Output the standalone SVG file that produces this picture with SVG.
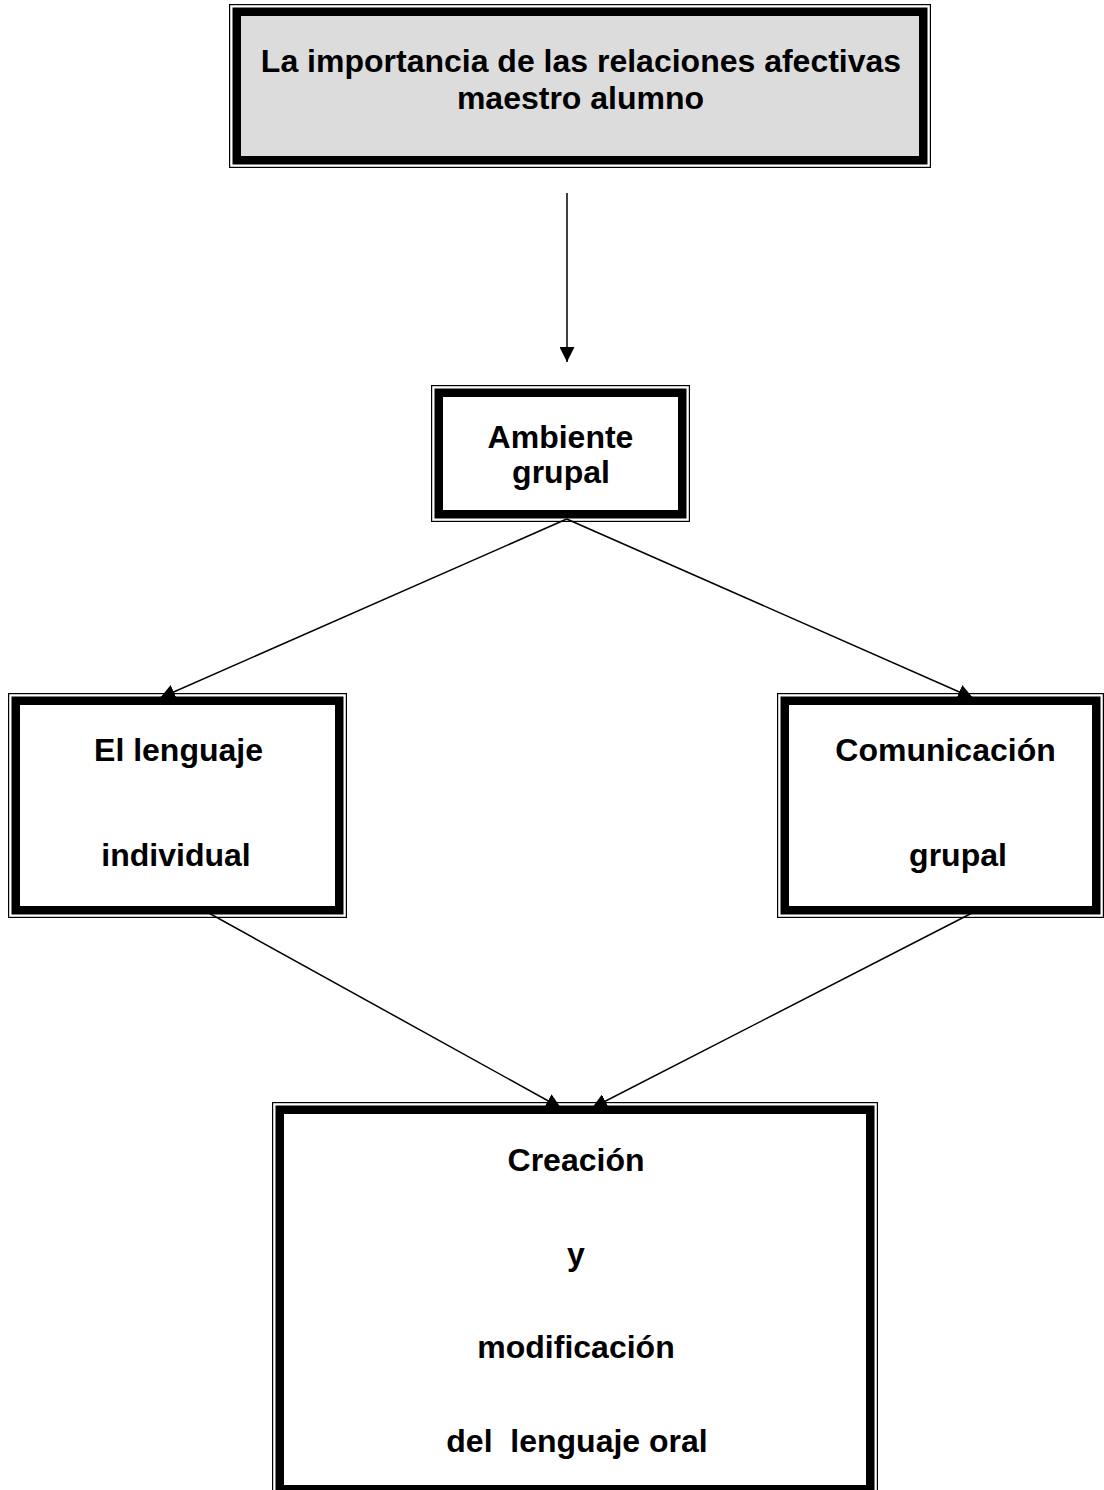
<svg xmlns="http://www.w3.org/2000/svg" width="1104" height="1490" viewBox="0 0 1104 1490">
<style>
.outer{fill:none;stroke:#000;stroke-width:1.2}
.thick{fill:#fff;stroke:#000;stroke-width:8.5}
.gray{fill:#dcdcdc}
.t{font-family:"Liberation Sans",Arial,sans-serif;font-weight:bold;font-size:32px;fill:#000;text-anchor:middle}
.c{stroke:#000;stroke-width:1.5;fill:none;marker-end:url(#ah)}
</style>
<defs>
<marker id="ah" markerUnits="userSpaceOnUse" markerWidth="15" markerHeight="15" refX="15" refY="7.5" orient="auto">
<path d="M0,0 L15,7.5 L0,15 z" fill="#000"/>
</marker>
</defs>
<rect width="1104" height="1490" fill="#fff"/>
<g id="connectors">
<line class="c" x1="567" y1="193" x2="567" y2="362"/>
<line class="c" x1="566.7" y1="519" x2="160" y2="698"/>
<line class="c" x1="566.7" y1="519" x2="973" y2="698"/>
<line class="c" x1="207" y1="912" x2="561" y2="1108"/>
<line class="c" x1="972" y1="913" x2="592" y2="1108"/>
</g>
<g id="node-title">
<rect class="outer" x="229.6" y="4.6" width="700.8" height="162.8"/>
<rect class="thick gray" x="236.75" y="11.75" width="686.5" height="148.5" style="fill:#dcdcdc"/>
<text class="t" x="581" y="71.5">La importancia de las relaciones afectivas</text>
<text class="t" x="580.5" y="109">maestro alumno</text>
</g>
<g id="node-ambiente">
<rect class="outer" x="431.6" y="385.6" width="257.8" height="135.8"/>
<rect class="thick" x="438.75" y="392.75" width="243.5" height="121.5"/>
<text class="t" x="560.5" y="448">Ambiente</text>
<text class="t" x="561" y="483">grupal</text>
</g>
<g id="node-lenguaje">
<rect class="outer" x="8.6" y="693.6" width="337.8" height="223.8"/>
<rect class="thick" x="15.75" y="700.75" width="323.5" height="209.5"/>
<text class="t" x="178.5" y="761">El lenguaje</text>
<text class="t" x="176" y="866">individual</text>
</g>
<g id="node-comunicacion">
<rect class="outer" x="777.6" y="693.6" width="325.8" height="223.8"/>
<rect class="thick" x="784.75" y="700.75" width="311.5" height="209.5"/>
<text class="t" x="945.5" y="761">Comunicación</text>
<text class="t" x="958" y="866">grupal</text>
</g>
<g id="node-creacion">
<rect class="outer" x="272.6" y="1102.6" width="604.8" height="393.8"/>
<rect class="thick" x="279.75" y="1109.75" width="590.5" height="379.5"/>
<text class="t" x="576" y="1171">Creación</text>
<text class="t" x="576" y="1264.5">y</text>
<text class="t" x="576" y="1358">modificación</text>
<text class="t" x="577" y="1451.5" xml:space="preserve">del  lenguaje oral</text>
</g>
</svg>
